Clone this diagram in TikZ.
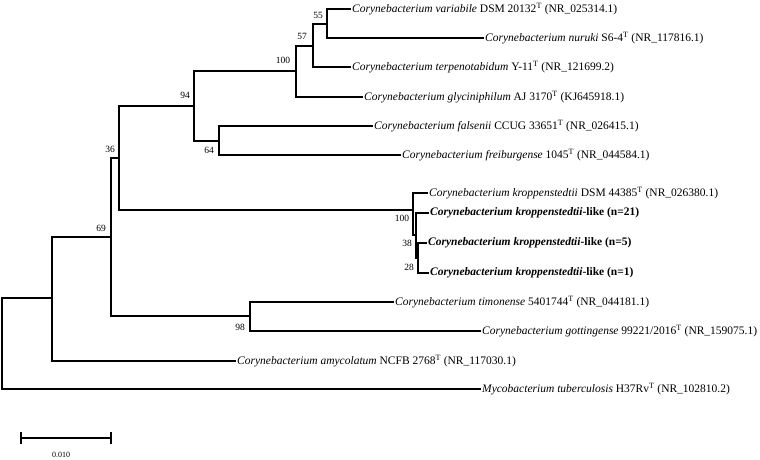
\documentclass[tikz,border=0pt]{standalone}
\usepackage{fontspec}
\setmainfont{Liberation Serif}
\usetikzlibrary{calc}
\tikzset{branch/.style={line width=1.4pt, line cap=rect},
	taxon/.style={anchor=west, inner sep=2pt, font=\fontsize{11.5}{12}\selectfont},
	boot/.style={font=\fontsize{9.5}{10}\selectfont, inner sep=1pt}}
\newcommand{\cory}[1]{\textit{Corynebacterium #1}}
\begin{document}
\begin{tikzpicture}[x=1pt, y=-1pt]
	\useasboundingbox (0,0) rectangle (760,459);

% LEAVES
	\coordinate (var) at (350,9);
	\coordinate (nur) at (483,38);
	\coordinate (ter) at (350,67);
	\coordinate (gly) at (362,97);
	\coordinate (fal) at (372,126);
	\coordinate (fre) at (400,155);
	\coordinate (dsm) at (427,193);
	\coordinate (k21) at (428,213);
	\coordinate (k5) at (426,243);
	\coordinate (k1) at (428,273);
	\coordinate (tim) at (393,302);
	\coordinate (got) at (480,331);
	\coordinate (amy) at (235,361);
	\coordinate (tub) at (480,389);

% INTERNAL NODES
	\coordinate (n55) at (327,24);
	\coordinate (n57) at (313,46);
	\coordinate (n100a) at (296,71);
	\coordinate (n64) at (219,141);
	\coordinate (n94) at (194,106);
	\coordinate (n28) at (418,258);
	\coordinate (n38) at (416,235);
	\coordinate (n100b) at (413,210);
	\coordinate (n36) at (119,158);
	\coordinate (n98) at (250,316);
	\coordinate (n69) at (111,237);
	\coordinate (n52) at (52,298);
	\coordinate (root) at (2,344);

	\draw[branch] (var) -| (n55) |- (nur);
	\draw[branch] (n55) -| (n57) |- (ter);
	\draw[branch] (n57) -| (n100a) |- (gly);
	\draw[branch] (fal) -| (n64) |- (fre);
	\draw[branch] (n100a) -| (n94) |- (n64);
	\draw[branch] (k5) -| (n28) |- (k1);
	\draw[branch] (k21) -| (n38) |- (n28);
	\draw[branch] (dsm) -| (n100b) |- (n38);
	\draw[branch] (n94) -| (n36) |- (n100b);
	\draw[branch] (tim) -| (n98) |- (got);
	\draw[branch] (n36) -| (n69) |- (n98);
	\draw[branch] (n69) -| (n52) |- (amy);
	\draw[branch] (n52) -| (root) |- (tub);

% LABELS
	\node[taxon] at (var) {\cory{variabile} DSM 20132\textsuperscript{T} (NR\_025314.1)};
	\node[taxon] at (nur) {\cory{nuruki} S6-4\textsuperscript{T} (NR\_117816.1)};
	\node[taxon] at (ter) {\cory{terpenotabidum} Y-11\textsuperscript{T} (NR\_121699.2)};
	\node[taxon] at (gly) {\cory{glyciniphilum} AJ 3170\textsuperscript{T} (KJ645918.1)};
	\node[taxon] at (fal) {\cory{falsenii} CCUG 33651\textsuperscript{T} (NR\_026415.1)};
	\node[taxon] at (fre) {\cory{freiburgense} 1045\textsuperscript{T} (NR\_044584.1)};
	\node[taxon] at (dsm) {\cory{kroppenstedtii} DSM 44385\textsuperscript{T} (NR\_026380.1)};
	\node[taxon] at (k21) {\bfseries\cory{kroppenstedtii}-like (n=21)};
	\node[taxon] at (k5) {\bfseries\cory{kroppenstedtii}-like (n=5)};
	\node[taxon] at (k1) {\bfseries\cory{kroppenstedtii}-like (n=1)};
	\node[taxon] at (tim) {\cory{timonense} 5401744\textsuperscript{T} (NR\_044181.1)};
	\node[taxon] at (got) {\cory{gottingense} 99221/2016\textsuperscript{T} (NR\_159075.1)};
	\node[taxon] at (amy) {\cory{amycolatum} NCFB 2768\textsuperscript{T} (NR\_117030.1)};
	\node[taxon] at (tub) {\textit{Mycobacterium tuberculosis} H37Rv\textsuperscript{T} (NR\_102810.2)};

% BOOTSTRAP
	\node[boot] at (318,15) {55};
	\node[boot] at (302,36) {57};
	\node[boot] at (283,60) {100};
	\node[boot] at (185,95) {94};
	\node[boot] at (209,150) {64};
	\node[boot] at (110,149) {36};
	\node[boot] at (101,228) {69};
	\node[boot] at (402,218) {100};
	\node[boot] at (407,243) {38};
	\node[boot] at (409,267) {28};
	\node[boot] at (240,327) {98};

% SCALE
	\coordinate (s0) at (21,438);
	\coordinate (s1) at (111,438);
	\draw[branch, line cap=butt] (s0) -- (s1);
	\draw[branch, line cap=butt] ($(s0)+(0,-6)$) -- ($(s0)+(0,6)$);
	\draw[branch, line cap=butt] ($(s1)+(0,-6)$) -- ($(s1)+(0,6)$);
	\node[boot, font=\fontsize{8}{9}\selectfont] at (61,455) {0.010};
\end{tikzpicture}
\end{document}
